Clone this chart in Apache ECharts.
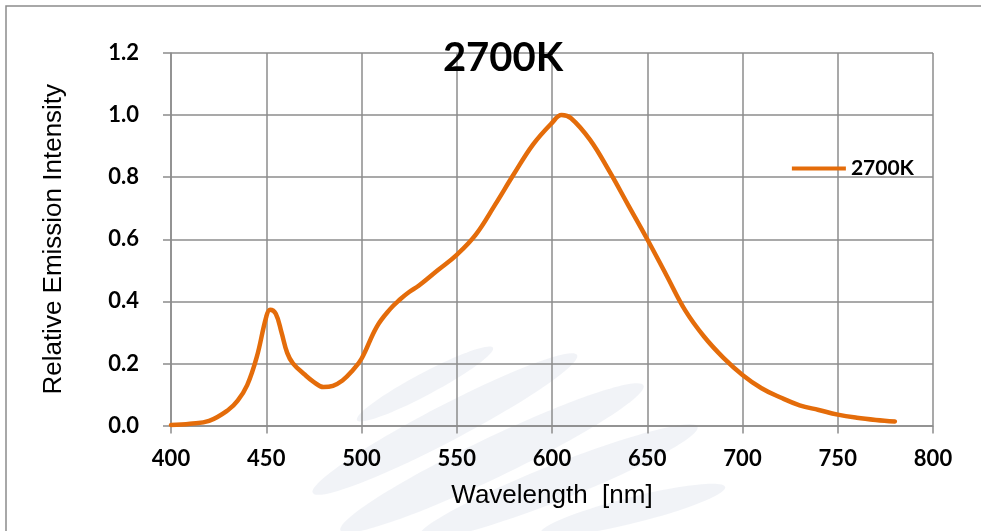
<!DOCTYPE html>
<html><head><meta charset="utf-8">
<script src="https://cdn.jsdelivr.net/npm/echarts@6/dist/echarts.min.js"></script>
<style>html,body{margin:0;padding:0;background:#fff}#c{width:981px;height:531px}</style>
</head><body><div id="c"></div>
<script>
const wavelengths = [400,410,420,430,435,440,445,450,452,455,458,461,464,470,475,480,485,490,495,500,508,515,520,525,530,540,550,560,570,580,590,600,605,610,620,630,640,650,660,670,680,690,700,710,720,730,740,750,760,770,780];
const intensity   = [0.002,0.006,0.015,0.05,0.08,0.13,0.22,0.35,0.373,0.36,0.3,0.234,0.2,0.165,0.14,0.124,0.128,0.145,0.175,0.215,0.318,0.375,0.405,0.43,0.45,0.50,0.55,0.615,0.71,0.81,0.905,0.975,1.0,0.99,0.92,0.82,0.71,0.6,0.485,0.37,0.285,0.218,0.163,0.12,0.09,0.065,0.05,0.035,0.025,0.018,0.013];
const seriesName = '2700K';
const titleText = '2700K';
const xTicks = {min:400,max:800,interval:50};
const yTicks = {min:0,max:1.2,interval:0.2};

const chart = echarts.init(document.getElementById('c'));
const gridColor = '#8c8c8c';
const lineColor = '#E46C0A';
const leafFill = 'rgba(225,228,238,0.45)';
function leaf(cx, cy, rx, ry, deg){
  return {type:'ellipse',silent:true,z:-20,x:cx,y:cy,rotation:deg*Math.PI/180,
    shape:{cx:0,cy:0,rx:rx,ry:ry},style:{fill:leafFill}};
}
chart.setOption({
  animation:false,
  title:{text:titleText,left:498,top:33,textAlign:'center',textStyle:{fontFamily:'Lato',fontWeight:'bold',fontSize:40,color:'#000'}},
  legend:{data:[seriesName],right:67,top:158,padding:0,itemWidth:54,itemHeight:4,itemGap:5,icon:'rect',
    textStyle:{fontFamily:'Lato',fontWeight:'bold',fontSize:21,color:'#000',padding:[0,0,0,0]}},
  graphic:[
    {type:'rect',silent:true,z:-30,shape:{x:6,y:6,width:990,height:540},style:{fill:'none',stroke:'#8c8c8c',lineWidth:1.5}},
    leaf(425,384,77,11,28),
    leaf(445,424,149,18,27.6),
    leaf(492,458,168,20,25.6),
    leaf(558,482,150,18,21.6),
    leaf(633,510,95,13,14)
  ],
  grid:{left:171,right:48,top:53,bottom:105.5},
  xAxis:{type:'value',min:xTicks.min,max:xTicks.max,interval:xTicks.interval,
    name:'Wavelength  [nm]',nameLocation:'middle',nameGap:57,
    nameTextStyle:{fontFamily:'Liberation Sans',fontSize:26,color:'#000'},
    axisLine:{show:true,lineStyle:{color:gridColor,width:1.5}},
    axisTick:{show:true,length:8,lineStyle:{color:gridColor,width:1.5}},
    axisLabel:{fontFamily:'Lato',fontWeight:'bold',fontSize:22,color:'#000',margin:22},
    splitLine:{show:true,lineStyle:{color:gridColor,width:1.5}}},
  yAxis:{type:'value',min:yTicks.min,max:yTicks.max,interval:yTicks.interval,
    name:'Relative Emission Intensity',nameLocation:'middle',nameGap:104,nameRotate:90,
    nameTextStyle:{fontFamily:'Liberation Sans',fontSize:26,color:'#000'},
    axisLine:{show:true,lineStyle:{color:gridColor,width:1.5}},
    axisTick:{show:true,length:8,lineStyle:{color:gridColor,width:1.5}},
    axisLabel:{fontFamily:'Lato',fontWeight:'bold',fontSize:22,color:'#000',margin:32,
      formatter:v=>v.toFixed(1)},
    splitLine:{show:true,lineStyle:{color:gridColor,width:1.5}}},
  series:[{name:seriesName,type:'line',smooth:0.4,showSymbol:false,symbol:'none',
    data:wavelengths.map((w,i)=>[w,intensity[i]]),
    lineStyle:{color:lineColor,width:4.5,cap:'round'},itemStyle:{color:lineColor}}]
});
</script></body></html>
